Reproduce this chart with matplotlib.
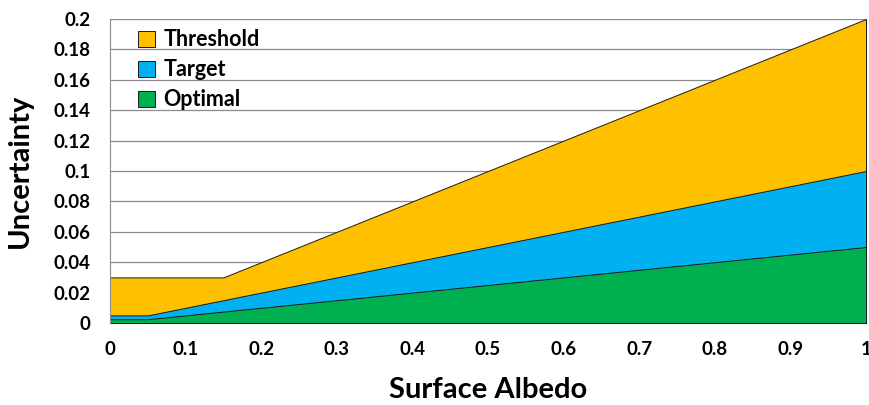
import matplotlib
matplotlib.use('Agg')
import matplotlib.pyplot as plt

plt.rcParams['font.family'] = ['Lato', 'DejaVu Sans']
plt.rcParams['font.weight'] = 'bold'

albedo = [0.0, 0.05, 0.15, 1.0]
threshold = [0.03, 0.03, 0.03, 0.2]
target = [0.005, 0.005, 0.015, 0.1]
optimal = [0.0025, 0.0025, 0.0075, 0.05]

series = [('Threshold', threshold, '#FFC000'),
          ('Target', target, '#00B0F0'),
          ('Optimal', optimal, '#00B050')]

fig = plt.figure(figsize=(8.7, 4.05), dpi=100)
ax = fig.add_axes([0.1264, 0.2025, 0.8690, 0.7506])

for name, vals, col in series:
    ax.fill_between(albedo, 0, vals, facecolor=col, edgecolor='#1a1a1a',
                    linewidth=0.7, label=name, zorder=2)

ax.set_xlim(0, 1)
ax.set_ylim(0, 0.2)
ax.set_xticks([i / 10 for i in range(11)])
ax.set_xticklabels(['0', '0.1', '0.2', '0.3', '0.4', '0.5', '0.6', '0.7', '0.8', '0.9', '1'])
ax.set_yticks([i / 50 for i in range(11)])
ax.set_yticklabels(['0', '0.02', '0.04', '0.06', '0.08', '0.1', '0.12', '0.14', '0.16', '0.18', '0.2'])
ax.tick_params(length=0, labelsize=13.5)
ax.tick_params(axis='y', pad=14)
ax.tick_params(axis='x', pad=13)
ax.grid(axis='y', color='#8c8c8c', linewidth=0.9, zorder=0)
ax.set_axisbelow(True)
for s in ['top', 'right', 'bottom']:
    ax.spines[s].set_visible(False)
ax.spines['left'].set_color('#8c8c8c')

ax.set_xlabel('Surface Albedo', fontsize=21, fontweight='bold', labelpad=14)
ax.set_ylabel('Uncertainty', fontsize=21, fontweight='bold', labelpad=15)

leg = ax.legend(loc='upper left', bbox_to_anchor=(0.012, 1.03), frameon=False,
                fontsize=15.5, handlelength=0.75, handleheight=0.75, handletextpad=0.4,
                labelspacing=0.42)

fig.savefig('out.png', dpi=100)
